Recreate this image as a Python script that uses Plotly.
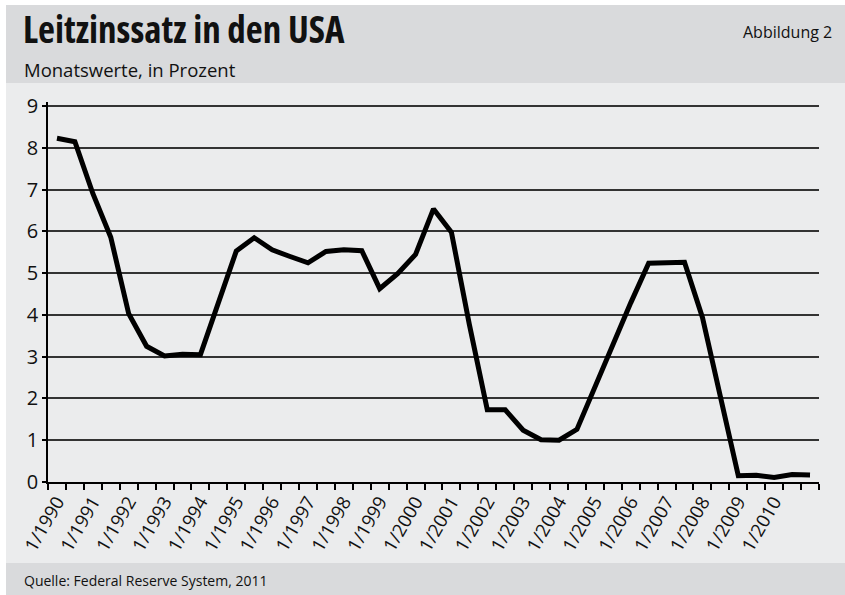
import plotly.graph_objects as go

# semi-annual observations, Jan/Jul
months = [f"{m}/{y}" for y in range(1990, 2011) for m in (1, 7)] + ["1/2011"]
rates = [
    8.23, 8.15, 6.91, 5.86, 4.03, 3.25, 3.02, 3.06, 3.05, 4.26,
    5.53, 5.85, 5.56, 5.40, 5.25, 5.52, 5.56, 5.54, 4.63, 4.99,
    5.45, 6.54, 5.98, 3.77, 1.73, 1.73, 1.24, 1.01, 1.00, 1.26,
    2.28, 3.26, 4.29, 5.24, 5.25, 5.26, 3.94, 2.01, 0.15, 0.16,
    0.11, 0.18, 0.17,
]
tick_labels = [m for m in months if m.startswith("1/")][:-1]

W, H = 845, 595
L, R, T, B = 48, 26, 102, 113
PW, PH = W - L - R, H - T - B

HEAD = "#d9dadc"
BG = "#ebeced"
INK = "#111111"
FONT = "Open Sans"


def px(x):
    return (x - L) / PW


def py(y):
    return (H - B - y) / PH


xs = list(range(len(months)))
tick_pos = [months.index(m) for m in tick_labels]

fig = go.Figure(go.Scatter(
    x=xs,
    y=rates,
    mode="lines",
    line=dict(color="black", width=5),
    hoverinfo="skip",
))

fig.update_layout(
    width=W,
    height=H,
    margin=dict(l=L, r=R, t=T, b=B),
    paper_bgcolor="white",
    plot_bgcolor="rgba(0,0,0,0)",
    showlegend=False,
    font=dict(family=FONT, color=INK),
    shapes=[
        dict(type="rect", xref="paper", yref="paper", x0=px(6), x1=px(W), y0=py(83), y1=py(5),
             fillcolor=HEAD, line_width=0, layer="below"),
        dict(type="rect", xref="paper", yref="paper", x0=px(6), x1=px(W), y0=py(563), y1=py(83),
             fillcolor=BG, line_width=0, layer="below"),
        dict(type="rect", xref="paper", yref="paper", x0=px(6), x1=px(W), y0=py(H), y1=py(563),
             fillcolor=HEAD, line_width=0, layer="below"),
    ],
    annotations=[
        dict(text="<span style='font-stretch:condensed'>Leitzinssatz in den USA</span>",
             xref="paper", yref="paper",
             x=px(21), y=py(28), xanchor="left", yanchor="middle", showarrow=False,
             font=dict(family=FONT, size=37, weight=700, color=INK)),
        dict(text="Monatswerte, in Prozent", xref="paper", yref="paper",
             x=px(22), y=py(70), xanchor="left", yanchor="middle", showarrow=False,
             font=dict(family=FONT, size=18.5, color=INK)),
        dict(text="Abbildung 2", xref="paper", yref="paper",
             x=px(834), y=py(32), xanchor="right", yanchor="middle", showarrow=False,
             font=dict(family=FONT, size=16, color=INK)),
        dict(text="Quelle: Federal Reserve System, 2011", xref="paper", yref="paper",
             x=px(22), y=py(580), xanchor="left", yanchor="middle", showarrow=False,
             font=dict(family=FONT, size=14, color=INK)),
    ],
)

fig.update_xaxes(
    range=[-0.5, len(months) - 0.5],
    tickmode="array",
    tickvals=tick_pos,
    ticktext=tick_labels,
    tickangle=-60,
    ticks="",
    showgrid=False,
    zeroline=False,
    showline=True,
    linecolor="black",
    linewidth=1.5,
    tickfont=dict(family=FONT, size=18.5, color=INK),
    minor=dict(tickmode="linear", tick0=-0.5, dtick=1, ticks="outside",
               ticklen=6, tickwidth=1.5, tickcolor="black", showgrid=False),
)

fig.update_yaxes(
    range=[0, 9.1],
    tickmode="linear",
    tick0=0,
    dtick=1,
    ticks="outside",
    ticklen=4,
    tickwidth=1.5,
    tickcolor="black",
    showgrid=True,
    gridcolor="#333333",
    gridwidth=1.5,
    zeroline=False,
    showline=True,
    linecolor="black",
    linewidth=1.5,
    tickfont=dict(family=FONT, size=20, color=INK),
)

# page body has a default 8px margin; drop it so the figure fills the window
fig.write_html(
    "out.html",
    config={"displayModeBar": False},
    post_script="document.body.style.margin = '0';",
)
